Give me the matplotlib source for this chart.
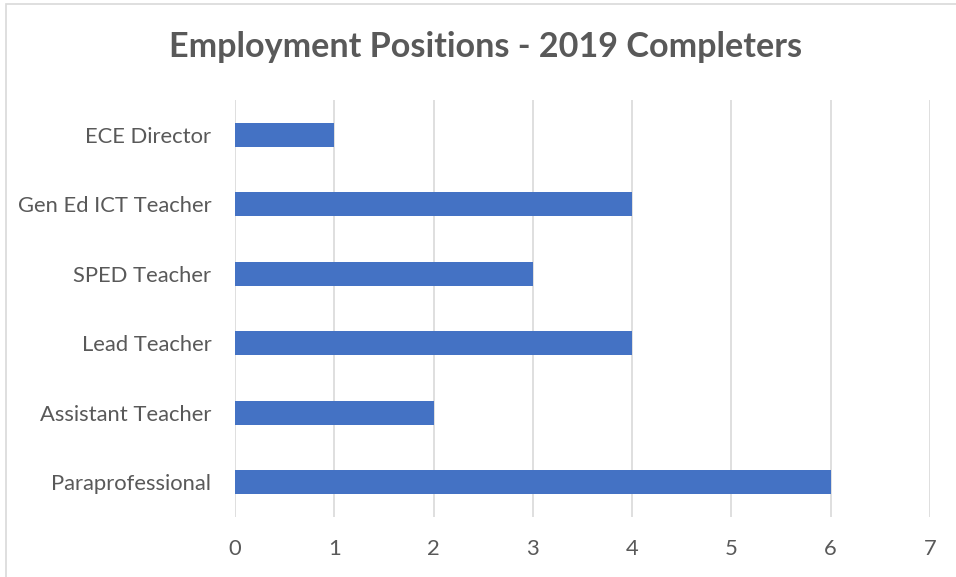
import matplotlib
matplotlib.use("Agg")
import matplotlib.pyplot as plt
from matplotlib.patches import Rectangle

# data
positions = ["Paraprofessional", "Assistant Teacher", "Lead Teacher",
             "SPED Teacher", "Gen Ed ICT Teacher", "ECE Director"]
counts = [6, 2, 4, 3, 4, 1]
xticks = [0, 1, 2, 3, 4, 5, 6, 7]

plt.rcParams['font.family'] = ['Lato', 'DejaVu Sans']
grey = '#595959'

fig = plt.figure(figsize=(9.56, 5.77), dpi=100)
ax = fig.add_axes([0.2458, 0.104, 0.727, 0.7227])

# chart border
fig.patches.append(Rectangle((6 / 956, -0.01), 1.0, 1 - 4 / 577 + 0.01,
                             transform=fig.transFigure, fill=False,
                             edgecolor='#d9d9d9', linewidth=1.2))

ax.barh(range(len(positions)), counts, height=0.35, color='#4472C4', zorder=3)

ax.set_xlim(0, 7)
ax.set_ylim(-0.5, len(positions) - 0.5)
ax.set_xticks(xticks)
ax.set_xticklabels([str(t) for t in xticks])
ax.set_yticks(range(len(positions)))
ax.set_yticklabels(positions)
ax.grid(axis='x', color='#d9d9d9', linewidth=1.2, zorder=0)
for s in ax.spines.values():
    s.set_visible(False)
ax.tick_params(axis='both', length=0, labelsize=15.8, colors=grey)
ax.tick_params(axis='x', pad=16)
ax.tick_params(axis='y', pad=17)

fig.text(0.508, 0.918, "Employment Positions - 2019 Completers",
         ha='center', va='center', fontsize=24.6, fontweight='bold', color=grey)

fig.savefig("out.png", dpi=100)
